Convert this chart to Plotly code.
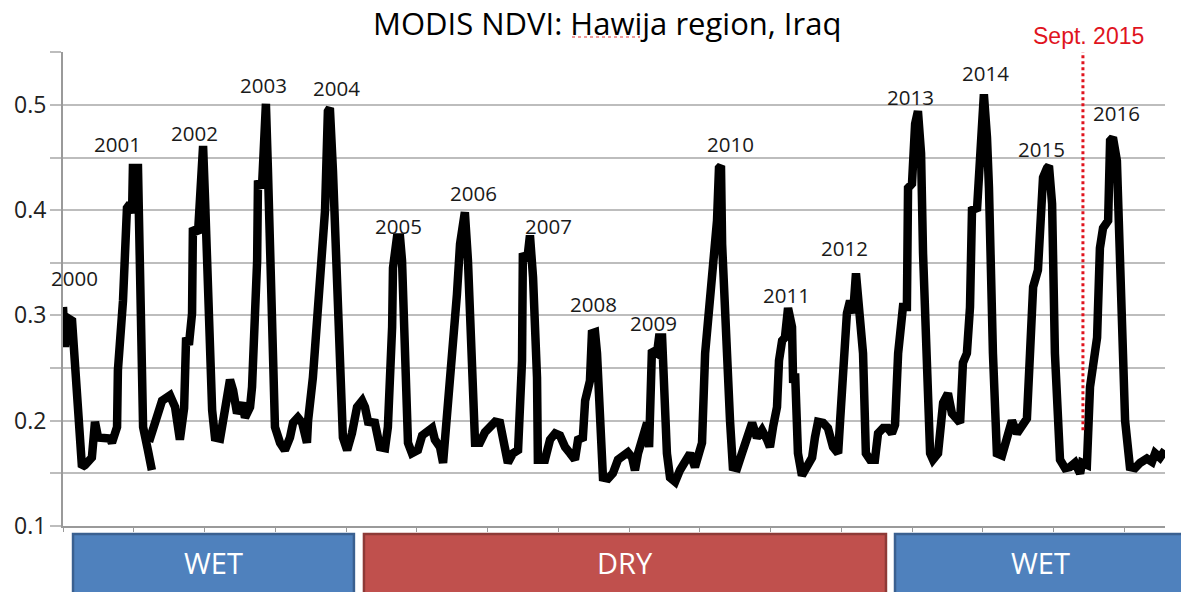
import plotly.graph_objects as go

# ---- data (16-day composite index, NDVI) ----
composite = [
    0, 0.7, 1.4, 3.2, 6.7, 7.8, 10.2, 11.3, 12.4, 16.6, 17.3, 19.1, 19.4, 21.2, 22.6, 23.7,
    24.4, 24.7, 26.5, 27.2, 28.3, 30.0, 31.4, None,
    30.4, 35.0, 37.8, 39.6, 41.3, 42.8, 43.5, 44.5, 45.6, 45.9, 47.7, 48.8, 49.5, 50.2,
    51.2, 52.7, 53.7, 55.5, 57.2, 59.0, 60.1, 61.5, 63.3, 64.3, 66.1, 66.8, 68.6, 68.9,
    70.3, 71.0, 71.7, 72.4, 73.9, 74.9, 76.7, 78.4, 80.2, 81.3, 83.0, 84.5, 86.2, 86.6,
    88.3, 90.8, 92.6, 93.6, 94.3, 95.4, 96.8, 97.9, 98.9, 100.4, 102.1, 103.9, 105.7,
    106.7, 107.8, 110.2, 112.0, 113.8, 114.8, 116.3, 116.6, 118.0, 119.1, 119.8, 120.8,
    121.9, 123.3, 125.4, 126.9, 128.6, 130.4, 131.4, 133.2, 134.3, 135.7, 137.5, 139.2,
    140.3, 141.3, 142.0, 143.1, 144.5, 145.6, 147.3, 149.1, 150.9, 152.7, 154.4, 155.5,
    157.2, 159.0, 160.8, 162.2, 162.5, 164.0, 164.3, 165.0, 166.1, 167.5, 167.8, 170.3,
    172.1, 173.9, 175.6, 177.4, 179.2, 180.9, 182.0, 183.7, 184.5, 186.2, 186.9, 188.0,
    188.7, 189.8, 190.8, 192.6, 194.3, 196.1, 197.9, 199.6, 201.1, 202.1, 203.2, 204.9,
    206.4, 207.1, 208.1, 209.9, 210.6, 211.7, 212.4, 213.4, 214.5, 216.3, 218.0, 219.8,
    221.6, 223.3, 224.4, 225.8, 226.9, 229.3, 231.1, 231.8, 232.5, 232.9, 233.9, 235.7,
    236.7, 238.2, 239.9, 241.7, 243.5, 245.2, 247.0, 248.8, 249.8, 250.9, 252.3, 253.0,
    254.1, 255.1, 256.2, 257.6, 258.0, 258.7, 259.7, 261.1, 262.9, 264.7, 265.7, 266.8,
    268.6, 270.3, 272.1, 273.9, 274.6, 275.6, 277.0, 278.1, 279.2, 280.2, 281.3, 282.7,
    283.7, 285.2, 286.9, 288.0, 289.8, 291.5, 292.9, 294.0, 295.1, 296.8, 298.2, 298.6,
    300.0, 301.1, 302.1, 303.2, 303.9, 305.3, 306.4, 307.4, 309.2, 311.0, 312.7, 314.1,
    315.9, 317.0, 318.0, 319.4, 320.5, 321.2, 323.0, 324.0, 325.4, 326.5, 327.2, 328.6,
    330.0, 331.8, 333.6, 335.3, 337.1, 338.9, 340.6, 341.7, 342.8, 344.5, 345.2, 346.3,
    347.7, 348.4, 349.5, 350.5, 352.3, 354.1, 355.8, 357.6, 359.4, 360.1, 361.8, 362.9,
    365.4, 366.4, 367.5, 369.3, 370.0, 371.0, 372.4, 373.5, 375.3, 377.0, 378.8, 380.6,
    383.0, 384.8, 385.9, 387.6, 389.4,
]
ndvi = [
    0.308, 0.270, 0.298, 0.295, 0.156, 0.158, 0.165, 0.199, 0.184, 0.183, 0.179, 0.194, 0.248, 0.314, 0.402, 0.406,
    0.397, 0.440, 0.440, 0.320, 0.194, 0.172, 0.153, None,
    0.180, 0.219, 0.224, 0.213, 0.182, 0.212, 0.279, 0.272, 0.302, 0.383, 0.378, 0.459, 0.461, 0.410,
    0.320, 0.210, 0.184, 0.183, 0.210, 0.239, 0.229, 0.207, 0.217, 0.203, 0.213, 0.232, 0.352, 0.428,
    0.421, 0.497, 0.501, 0.440, 0.320, 0.194, 0.179, 0.172, 0.184, 0.198, 0.203, 0.198, 0.179, 0.200,
    0.241, 0.320, 0.400, 0.494, 0.497, 0.437, 0.345, 0.241, 0.184, 0.172, 0.188, 0.213, 0.219,
    0.213, 0.199, 0.198, 0.175, 0.174, 0.194, 0.289, 0.345, 0.374, 0.374, 0.352, 0.257,
    0.179, 0.169, 0.172, 0.186, 0.189, 0.193, 0.182, 0.175, 0.160, 0.200, 0.257, 0.320,
    0.368, 0.397, 0.398, 0.352, 0.257, 0.179, 0.179, 0.189, 0.194, 0.199, 0.198, 0.184,
    0.160, 0.169, 0.172, 0.257, 0.359, 0.352, 0.374, 0.376, 0.336, 0.241, 0.163, 0.163,
    0.182, 0.188, 0.186, 0.175, 0.169, 0.163, 0.182, 0.184, 0.219, 0.238, 0.283, 0.284,
    0.264, 0.200, 0.146, 0.145, 0.150, 0.163, 0.167, 0.170, 0.165, 0.153, 0.169, 0.182,
    0.198, 0.175, 0.267, 0.264, 0.279, 0.279, 0.232, 0.169, 0.146, 0.142, 0.153, 0.163,
    0.169, 0.156, 0.169, 0.179, 0.264, 0.343, 0.390, 0.440, 0.442, 0.368, 0.295, 0.200,
    0.156, 0.155, 0.169, 0.184, 0.198, 0.184, 0.191, 0.182, 0.175, 0.194, 0.213, 0.257,
    0.276, 0.279, 0.307, 0.289, 0.236, 0.245, 0.169, 0.148, 0.156, 0.165, 0.184, 0.199,
    0.198, 0.193, 0.175, 0.169, 0.200, 0.248, 0.302, 0.314, 0.302, 0.340, 0.314, 0.264,
    0.169, 0.163, 0.163, 0.188, 0.193, 0.193, 0.188, 0.196, 0.264, 0.308, 0.308, 0.421,
    0.425, 0.482, 0.494, 0.454, 0.359, 0.264, 0.169, 0.163, 0.169, 0.217, 0.226, 0.207,
    0.200, 0.198, 0.255, 0.264, 0.308, 0.400, 0.402, 0.454, 0.510, 0.469, 0.421, 0.264,
    0.169, 0.167, 0.184, 0.200, 0.188, 0.194, 0.202, 0.264, 0.327, 0.343, 0.374, 0.431,
    0.440, 0.442, 0.406, 0.264, 0.163, 0.155, 0.156, 0.160, 0.150, 0.160, 0.158, 0.232,
    0.279, 0.364, 0.383, 0.390, 0.466, 0.469, 0.447, 0.359, 0.200, 0.156, 0.155, 0.160,
    0.164, 0.161, 0.169, 0.165, 0.172,
]

year_labels = ["2000", "2001", "2002", "2003", "2004", "2005", "2006", "2007", "2008",
               "2009", "2010", "2011", "2012", "2013", "2014", "2015", "2016"]
year_label_x = [4.2, 19.1, 46.6, 71.0, 96.5, 118.4, 144.9, 171.7, 187.6,
                208.8, 236.0, 255.5, 276.0, 299.3, 326.1, 345.9, 372.1]
year_label_y = [0.336, 0.463, 0.473, 0.519, 0.516, 0.385, 0.416, 0.385, 0.311,
                0.293, 0.463, 0.319, 0.364, 0.507, 0.530, 0.458, 0.492]

sept2015_x = 360.4
sept2015_ymin = 0.191
sept2015_ymax = 0.551

periods = ["WET", "DRY", "WET"]
period_x0 = [0.0091, 0.2731, 0.7550]
period_x1 = [0.2640, 0.7468, 1.03]
period_text_x = [0.1370, 0.5100, 0.8872]
period_fill = ["#4F81BD", "#C0504D", "#4F81BD"]
period_line = ["#3A6090", "#8E3A37", "#3A6090"]

GRID = "#BDBDBD"

fig = go.Figure()
fig.add_trace(go.Scatter(
    x=composite, y=ndvi, mode="lines",
    line=dict(color="#000000", width=8.5),
    connectgaps=False, showlegend=False, hoverinfo="skip",
))

# year annotations
for t, xx, yy in zip(year_labels, year_label_x, year_label_y):
    fig.add_annotation(x=xx, y=yy, text=t, showarrow=False, xref="x", yref="y",
                       font=dict(family="Open Sans", size=20.5, color="#1a1a1a"),
                       xanchor="center", yanchor="middle")

# Sept. 2015 marker
fig.add_shape(type="line", xref="x", yref="y", x0=sept2015_x, x1=sept2015_x,
              y0=sept2015_ymin, y1=sept2015_ymax,
              line=dict(color="#E0141E", width=3, dash="dot"))
fig.add_annotation(x=0.9306, y=1.034, xref="paper", yref="paper", text="Sept. 2015",
                   showarrow=False, xanchor="center", yanchor="middle",
                   font=dict(family="Liberation Sans", size=23, color="#E0141E"))

# title
fig.add_annotation(x=0.4936, y=1.062, xref="paper", yref="paper",
                   text="MODIS NDVI: Hawija region, Iraq", showarrow=False,
                   xanchor="center", yanchor="middle",
                   font=dict(family="Open Sans", size=31, color="#000000"))
# spell-check squiggle under "Hawija"
fig.add_shape(type="line", xref="paper", yref="paper", x0=0.4619, x1=0.5236,
              y0=1.0316, y1=1.0316, line=dict(color="#E03030", width=1.2, dash="dot"))

# WET / DRY boxes
for name, x0, x1, tx, fc, lc in zip(periods, period_x0, period_x1, period_text_x,
                                     period_fill, period_line):
    fig.add_shape(type="rect", xref="paper", yref="paper", x0=x0, x1=x1,
                  y0=-0.2, y1=-0.0169, fillcolor=fc, line=dict(color=lc, width=2.5),
                  layer="above")
    fig.add_annotation(x=tx, y=-0.078, xref="paper", yref="paper", text=name,
                       showarrow=False, xanchor="center", yanchor="middle",
                       font=dict(family="Open Sans", size=29, color="#FFFFFF"))

fig.update_layout(
    width=1181, height=592,
    margin=dict(l=63, r=16, t=52, b=66, autoexpand=False),
    paper_bgcolor="white", plot_bgcolor="white",
    xaxis=dict(range=[0, 389.4], showgrid=False, zeroline=False, automargin=False,
               showline=True, linecolor="#9A9A9A", linewidth=2,
               ticks="outside", ticklen=4, tickcolor="#9A9A9A", tickwidth=1,
               tick0=0, dtick=25, showticklabels=False),
    yaxis=dict(range=[0.1, 0.5502], showgrid=True, gridcolor=GRID, gridwidth=1.6,
               zeroline=False, showline=True, linecolor="#9A9A9A", linewidth=2,
               automargin=False,
               ticks="outside", ticklen=11, tickcolor=GRID, tickwidth=1.6,
               tick0=0.1, dtick=0.1, tickformat=".1f",
               tickfont=dict(family="Open Sans", size=23, color="#222222"),
               ticklabelstandoff=-1,
               minor=dict(dtick=0.05, tick0=0.1, ticks="outside", ticklen=11,
                          tickcolor=GRID, tickwidth=1.6, showgrid=True,
                          gridcolor=GRID, gridwidth=1.6)),
    showlegend=False,
)

fig.write_html("out.html")
